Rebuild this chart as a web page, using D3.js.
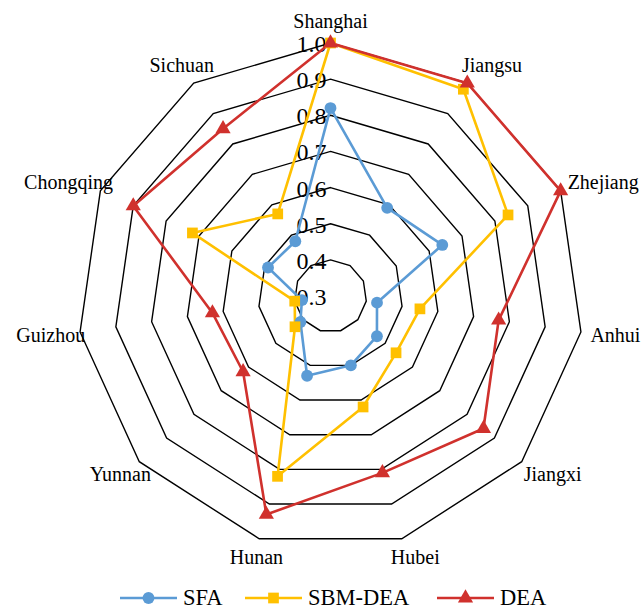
<!DOCTYPE html>
<html>
<head>
<meta charset="utf-8">
<script src="https://cdn.jsdelivr.net/npm/d3@7"></script>
<style>
  html, body { margin: 0; padding: 0; background: #fff; }
  svg { display: block; font-family: "Liberation Serif", "Times New Roman", serif; }
</style>
</head>
<body>
<svg id="chart" width="644" height="610"></svg>
<script>
// Efficiency scores by province
const categories = ["Shanghai", "Jiangsu", "Zhejiang", "Anhui", "Jiangxi", "Hubei",
                    "Hunan", "Yunnan", "Guizhou", "Chongqing", "Sichuan"];
const sfaValues = [0.82, 0.59, 0.64, 0.43, 0.47, 0.50, 0.53, 0.41, 0.38, 0.49, 0.48];
const sbmDeaValues = [1.00, 0.98, 0.84, 0.55, 0.54, 0.62, 0.82, 0.43, 0.40, 0.72, 0.57];
const deaValues = [1.00, 1.00, 1.00, 0.77, 0.86, 0.81, 0.93, 0.62, 0.63, 0.90, 0.85];
const tickValues = [0.3, 0.4, 0.5, 0.6, 0.7, 0.8, 0.9, 1.0];
const tickLabels = ["0.3", "0.4", "0.5", "0.6", "0.7", "0.8", "0.9", "1.0"];
const seriesNames = ["SFA", "SBM-DEA", "DEA"];

const series = [
  { name: seriesNames[0], values: sfaValues, color: "#5B9BD5", symbol: d3.symbolCircle, size: 110 },
  { name: seriesNames[1], values: sbmDeaValues, color: "#FFC000", symbol: d3.symbolSquare, size: 115 },
  { name: seriesNames[2], values: deaValues, color: "#D0312D", symbol: d3.symbolTriangle, size: 100 }
];

const svg = d3.select("#chart");
const cx = 330.5, cy = 296, R = 253;
const n = categories.length;

const r = d3.scaleLinear().domain([0.3, 1.0]).range([0, R]);
const angle = d3.scaleLinear().domain([0, n]).range([0, 2 * Math.PI]);

const g = svg.append("g").attr("transform", `translate(${cx},${cy})`);

// Grid polygons, one per tick above the centre value
const gridLine = d3.lineRadial()
  .angle((d, i) => angle(i))
  .radius(d => r(d))
  .curve(d3.curveLinearClosed);

g.append("g").selectAll("path")
  .data(tickValues.filter(t => t > 0.3))
  .join("path")
  .attr("d", t => gridLine(categories.map(() => t)))
  .attr("fill", "none")
  .attr("stroke", "#000")
  .attr("stroke-width", 1.4);

// Radial tick labels along the top axis
g.append("g").selectAll("text")
  .data(tickValues)
  .join("text")
  .attr("x", -4)
  .attr("y", t => -r(t) + 1)
  .attr("text-anchor", "end")
  .attr("dominant-baseline", "central")
  .attr("font-size", 24)
  .attr("fill", "#000")
  .text((t, i) => tickLabels[i]);

// Category labels around the outer ring
const labels = g.append("g").selectAll("text")
  .data(categories)
  .join("text")
  .attr("font-size", 20)
  .attr("fill", "#000")
  .attr("text-anchor", "middle")
  .attr("dominant-baseline", "central")
  .text(d => d);

labels.each(function (d, i) {
  const a = angle(i);
  const s = Math.sin(a), c = Math.cos(a);
  const w = this.getComputedTextLength();
  const vx = R * s, vy = -R * c;
  const x = vx + 8 * s + (w / 2) * (0.85 * s + 0.22 * (Math.abs(s) > 0.05 ? 1 : 0));
  const y = vy - (c > 0 ? 22 : 19) * c;
  d3.select(this).attr("x", x).attr("y", y);
});

// Series lines
const seriesLine = d3.lineRadial()
  .angle((d, i) => angle(i))
  .radius(d => r(d))
  .curve(d3.curveLinearClosed);

g.append("g").selectAll("path")
  .data(series)
  .join("path")
  .attr("d", s => seriesLine(s.values))
  .attr("fill", "none")
  .attr("stroke", s => s.color)
  .attr("stroke-width", 2.6)
  .attr("stroke-linejoin", "round");

// Series markers
series.forEach(s => {
  g.append("g").selectAll("path")
    .data(s.values)
    .join("path")
    .attr("d", d3.symbol().type(s.symbol).size(s.size))
    .attr("transform", (v, i) => {
      const a = angle(i);
      return `translate(${r(v) * Math.sin(a)},${-r(v) * Math.cos(a)})`;
    })
    .attr("fill", s.color);
});

// Legend
const legendX = [120, 245, 437];
const legend = svg.append("g").selectAll("g")
  .data(series)
  .join("g")
  .attr("transform", (s, i) => `translate(${legendX[i]},598)`);

legend.append("line")
  .attr("x1", 0).attr("x2", 57)
  .attr("y1", 0).attr("y2", 0)
  .attr("stroke", s => s.color)
  .attr("stroke-width", 2.6);

legend.append("path")
  .attr("d", s => d3.symbol().type(s.symbol).size(s.size)())
  .attr("transform", "translate(28.5,0)")
  .attr("fill", s => s.color);

legend.append("text")
  .attr("x", 63)
  .attr("y", 7)
  .attr("font-size", 22.5)
  .attr("fill", "#000")
  .text(s => s.name);
</script>
</body>
</html>
